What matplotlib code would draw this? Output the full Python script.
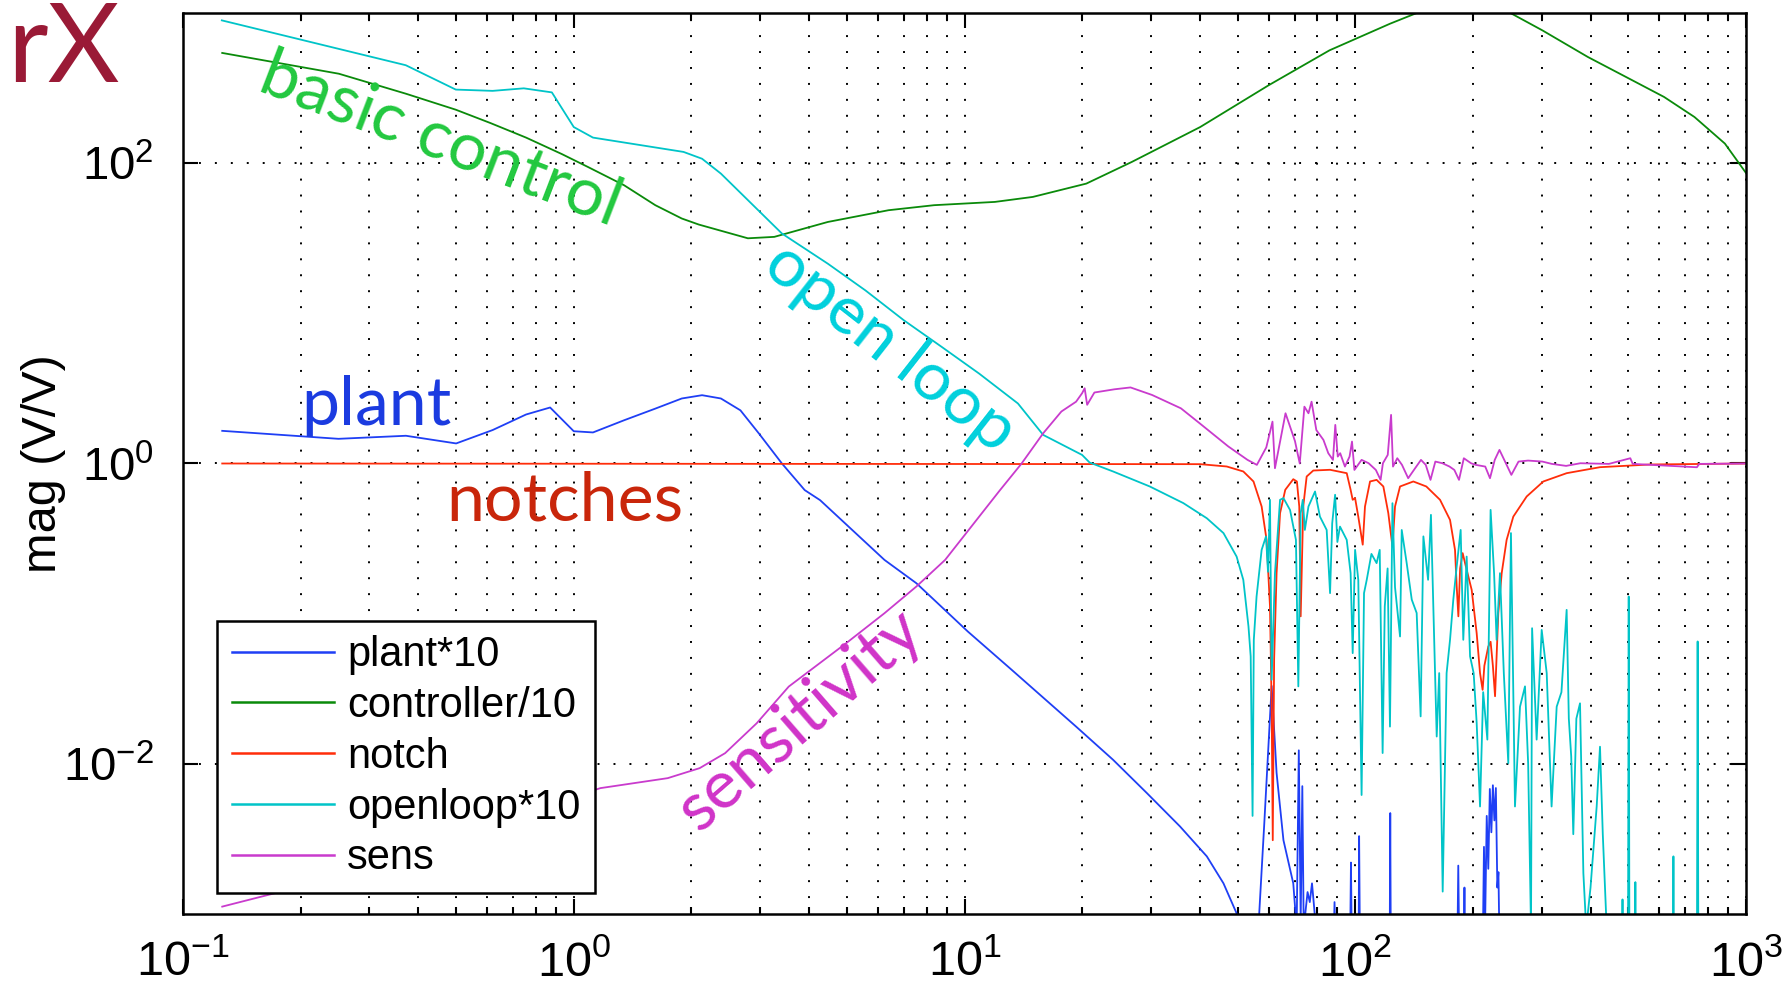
import matplotlib
matplotlib.use('Agg')
import matplotlib.pyplot as plt

plt.rcParams['font.family'] = ['Liberation Sans', 'DejaVu Sans']
plt.rcParams['mathtext.fontset'] = 'custom'
plt.rcParams['mathtext.rm'] = 'Liberation Sans'
plt.rcParams['mathtext.it'] = 'Liberation Sans'

# ---- data (frequency in Hz, magnitude in V/V) ----
plant_f = [0.126, 0.25, 0.372, 0.5, 0.62, 0.755, 0.87, 1.0, 1.12, 1.345, 1.617, 1.89, 2.13, 2.38,
           2.67, 2.98, 3.41, 3.90, 4.27, 6.24, 7.53, 10.2, 13.2, 19.3, 24.0, 29.3, 35.6, 41.7,
           46.0, 49.7, 52.5, 56.5, 58.5, 61.1, 62.9, 65.5, 69.4, 70.8, 71.7, 72.5, 73.2, 73.8,
           75.5, 76.5, 77.5, 78.5, 80, 88, 88.5, 89, 97, 97.5, 98, 102, 102.3, 102.8, 122.5,
           122.9, 123.3, 182.5, 183.5, 184.5, 189.5, 190.3, 191, 212, 213.5, 215, 217, 219, 221,
           223, 225, 227, 229, 231, 232.5, 234, 300, 1000]
plant_mag = [1.65, 1.46, 1.53, 1.36, 1.67, 2.12, 2.36, 1.64, 1.61, 1.94, 2.32, 2.71, 2.85, 2.71,
             2.26, 1.58, 1.0, 0.665, 0.57, 0.228, 0.1595, 0.076, 0.0423, 0.0177, 0.01064, 0.00638,
             0.00383, 0.00242, 0.0016, 0.00101, 0.0006, 0.0008, 0.004, 0.033, 0.0087, 0.0031,
             0.0016, 0.0008, 0.0123, 0.0009, 0.0071, 0.0008, 0.0014, 0.0012, 0.0016, 0.0011,
             0.0006, 0.0006, 0.0012, 0.0006, 0.0006, 0.0022, 0.0006, 0.0006, 0.0033, 0.0006,
             0.0006, 0.0047, 0.0006, 0.0006, 0.0021, 0.0006, 0.0006, 0.0015, 0.0006, 0.0006,
             0.0028, 0.0009, 0.0045, 0.002, 0.0068, 0.0035, 0.0072, 0.0042, 0.0069, 0.0015,
             0.0019, 0.0006, 0.0006, 0.0006]

ctrl_f = [0.126, 0.2506, 0.372, 0.499, 0.612, 0.755, 0.932, 1.09, 1.345, 1.617, 1.89, 2.09, 2.79,
          3.26, 4.47, 6.39, 8.36, 11.96, 14.96, 20.5, 26.8, 40.1, 60.0, 85.9, 122.8, 143.7, 170,
          200, 225, 249.5, 301, 394, 493, 617, 738, 883, 1000]
ctrl_mag = [542, 394, 290, 227, 185, 148, 115, 94, 71.3, 52.5, 42.8, 39, 31.6, 32.3, 40.6, 48.6,
            52.5, 55.2, 59.6, 73.1, 101.9, 174, 330, 564, 849, 1000, 1180, 1230, 1130, 1000,
            767, 509, 375, 276, 203, 135, 86]

notch_f = [0.126, 40.1, 46.9, 51.7, 54.9, 57.6, 59.3, 60.5, 61.1, 61.5, 62.0, 62.9, 64.2, 66.2,
           69.4, 70.9, 71.9, 72.5, 73.6, 75.1, 78.1, 86.2, 95.1, 97.3, 98.5, 99.9, 101.8, 104.5,
           105.9, 109.1, 113.4, 118, 121.5, 124.5, 126.4, 130.2, 140.8, 152, 164.8, 174.8, 180,
           181.8, 183.6, 185.5, 188.3, 192.8, 198.6, 204.5, 208.6, 211.8, 214, 219, 222, 225,
           227.9, 232.3, 237, 244, 253.8, 274.6, 302.9, 347.5, 423, 568, 1000]
notch_mag = [1.0, 0.99, 0.955, 0.885, 0.759, 0.517, 0.31, 0.112, 0.024, 0.0031, 0.05, 0.186,
             0.467, 0.668, 0.786, 0.759, 0.517, 0.096, 0.517, 0.819, 0.898, 0.908, 0.862, 0.668,
             0.573, 0.588, 0.443, 0.288, 0.517, 0.759, 0.778, 0.703, 0.467, 0.28, 0.517, 0.703,
             0.759, 0.703, 0.573, 0.421, 0.266, 0.152, 0.096, 0.2, 0.253, 0.196, 0.144, 0.0742,
             0.0402, 0.0311, 0.045, 0.0604, 0.065, 0.045, 0.0282, 0.1007, 0.186, 0.31, 0.443,
             0.603, 0.759, 0.862, 0.945, 0.985, 1.0]

ol_f = [0.1257, 0.3716, 0.499, 0.62, 0.745, 0.879, 1.0, 1.12, 1.75, 1.91, 2.13, 2.38, 2.85, 3.41,
        4.47, 5.58, 6.99, 8.74, 10.9, 13.7, 15.9, 20.0, 20.9, 24.0, 29.8, 36.3, 41.7, 46.0, 49.7,
        51.7, 53.3, 54.0, 54.6, 55.0, 55.9, 57.6, 59.1, 59.8, 60.5, 61.1, 62.3, 64.2, 65.5, 68.1,
        70.5, 71.5, 72.5, 73.4, 74.3, 75.9, 77.2, 78.9, 81.2, 84.5, 86.2, 87.3, 88.8, 90.0, 91.4,
        95.1, 97.3, 98.5, 99.9, 101.8, 103.8, 105.3, 107, 110, 113.4, 115.5, 117.5, 119, 121,
        122.7, 124.5, 126.4, 130.2, 131.5, 135.4, 139.5, 143.6, 147, 149.4, 153.6, 156.2, 158.4,
        161.6, 164, 167.4, 171.3, 174.8, 178.2, 181.8, 186.1, 189, 192.8, 196.7, 200.9, 204.5,
        208.6, 212.5, 217.8, 222, 226.6, 230, 234.6, 240, 246.4, 250.3, 256.3, 264, 271.9, 277,
        281.7, 283.5, 291.2, 300, 309, 318, 327.7, 337, 347.5, 352, 357, 361.4, 368, 376, 383.5,
        390, 400, 414.8, 423, 430, 440, 482, 483, 484, 499, 501, 503, 520, 521, 522, 650, 652,
        654, 749, 752, 755, 1000]
ol_mag = [893, 449, 309, 303, 315, 296, 174, 148, 123, 118.8, 107, 85.2, 53.8, 34.0, 21.4, 14.2,
          9.0, 5.98, 3.97, 2.51, 1.55, 1.14, 1.015, 0.885, 0.703, 0.545, 0.432, 0.344, 0.240,
          0.168, 0.0822, 0.0519, 0.0045, 0.067, 0.130, 0.266, 0.327, 0.19, 0.573, 0.0363, 0.186,
          0.573, 0.588, 0.49, 0.31, 0.0328, 0.467, 0.573, 0.361, 0.517, 0.573, 0.651, 0.443,
          0.361, 0.137, 0.40, 0.619, 0.30, 0.38, 0.31, 0.186, 0.0546, 0.266, 0.168, 0.0062,
          0.137, 0.168, 0.25, 0.217, 0.266, 0.0118, 0.112, 0.2, 0.0177, 0.544, 0.15, 0.0705,
          0.361, 0.217, 0.124, 0.101, 0.0207, 0.327, 0.168, 0.455, 0.112, 0.0152, 0.0402,
          0.00141, 0.0402, 0.067, 0.124, 0.206, 0.361, 0.067, 0.24, 0.052, 0.0402, 0.0188,
          0.0052, 0.03, 0.0145, 0.491, 0.186, 0.067, 0.186, 0.04, 0.0101, 0.344, 0.0052, 0.024,
          0.0328, 0.01, 0.0008, 0.08, 0.0145, 0.078, 0.0402, 0.0052, 0.024, 0.03, 0.106, 0.02,
          0.0112, 0.0034, 0.02, 0.0253, 0.00187, 0.0008, 0.0015, 0.0052, 0.013, 0.0034, 0.0008,
          0.0006, 0.00125, 0.0006, 0.0006, 0.13, 0.0006, 0.0006, 0.00163, 0.0006, 0.0006,
          0.00242, 0.0006, 0.0006, 0.0653, 0.0006, 0.0006]

sens_f = [0.126, 0.1726, 1.17, 1.74, 2.10, 2.44, 2.94, 3.55, 4.98, 6.24, 7.53, 8.92, 12.3, 14.0,
          15.9, 17.7, 19.3, 20.0, 20.3, 20.6, 21.5, 24.2, 26.6, 30.2, 35.8, 40.0, 47.3, 53.0,
          56.0, 59.2, 61.4, 62.3, 66.3, 70.1, 72.1, 74.1, 75.9, 77.3, 79.5, 82.9, 85.3, 87.7,
          88.9, 90.2, 91.5, 94.1, 96.7, 98.1, 99.5, 103.8, 108.2, 112.9, 116.1, 117.7, 121.1,
          123.5, 124.9, 128.1, 131.7, 136.6, 141.3, 147.3, 151.5, 155.8, 160.3, 167.1, 174.3,
          179.3, 184.3, 189.6, 197.8, 203.4, 215.1, 221.2, 227.5, 233.9, 240.6, 250.9, 261.7,
          276.8, 301.2, 318.4, 346.4, 376.8, 445.8, 505.7, 512.9, 748.6, 759.3, 1000]
sens_mag = [0.00112, 0.00138, 0.00689, 0.00803, 0.00936, 0.01178, 0.01865, 0.0327, 0.0636,
            0.1007, 0.1516, 0.228, 0.66, 1.0, 1.59, 2.22, 2.58, 2.94, 3.17, 2.46, 2.97, 3.12,
            3.21, 2.86, 2.33, 1.85, 1.30, 1.057, 0.979, 1.28, 1.90, 0.93, 2.16, 1.41, 1.0, 2.39,
            2.16, 2.58, 1.67, 1.436, 1.171, 1.057, 1.807, 1.112, 1.171, 0.954, 1.112, 1.40,
            0.906, 1.057, 1.004, 0.906, 0.778, 1.004, 1.141, 2.107, 0.954, 1.084, 0.979, 0.798,
            0.906, 1.057, 0.979, 0.778, 1.030, 1.004, 0.954, 0.906, 0.778, 1.084, 1.004, 0.979,
            0.954, 0.798, 1.057, 1.232, 1.057, 0.840, 1.030, 1.046, 1.030, 0.994, 0.964, 1.004,
            0.994, 1.084, 0.994, 0.944, 0.994, 1.0]

labels = ['plant*10', 'controller/10', 'notch', 'openloop*10', 'sens']
colors = ['#1f3ff5', '#0a8a0a', '#ff2d0a', '#00c4c8', '#c93bcd']

# ---- figure ----
fig = plt.figure(figsize=(17.91, 9.92), dpi=100)
ax = fig.add_axes([0.10218, 0.07863, 0.87270, 0.90827])

series = [(plant_f, plant_mag), (ctrl_f, ctrl_mag), (notch_f, notch_mag),
          (ol_f, ol_mag), (sens_f, sens_mag)]
for (f, m), lab, col in zip(series, labels, colors):
    ax.loglog(f, m, color=col, linewidth=1.3, label=lab)

ax.set_xlim(0.1, 1000)
ax.set_ylim(1e-3, 1e3)
ax.set_yticks([1e-2, 1, 1e2])
ax.yaxis.set_minor_locator(matplotlib.ticker.NullLocator())

# MATLAB-ish dotted grid and inward ticks on all sides
ax.set_axisbelow(True)
ax.grid(True, which='major', axis='both', color='k', linestyle=(0, (1, 7.2)), linewidth=1.4)
ax.grid(True, which='minor', axis='x', color='k', linestyle=(0, (1, 7.2)), linewidth=1.4)
ax.tick_params(which='both', direction='in', top=True, right=True, width=1.5)
ax.tick_params(which='major', length=11)
ax.tick_params(which='minor', length=5)
ax.tick_params(axis='x', labelsize=35, pad=19)
ax.tick_params(axis='y', labelsize=34, pad=21)
for s in ax.spines.values():
    s.set_linewidth(1.8)

ax.set_ylabel('mag (V/V)', fontsize=35)
ax.yaxis.set_label_coords(-0.0749, 0.5)

leg = ax.legend(loc='lower left', bbox_to_anchor=(0.0218, 0.0233), borderaxespad=0,
                fontsize=30, handlelength=2.45, handletextpad=0.32, labelspacing=0.26,
                borderpad=0.35, fancybox=False, edgecolor='k', framealpha=1)
leg.get_frame().set_linewidth(1.8)
for ln in leg.get_lines():
    ln.set_linewidth(1.8)

# hand-written annotations
ann = dict(family=['Lato', 'DejaVu Sans'], fontsize=49, transform=ax.transAxes)
ax.text(0.1651, 0.8590, 'basic control', color='#22c83f', rotation=-21,
        ha='center', va='center', rotation_mode='anchor', **ann)
ax.text(0.4523, 0.6282, 'open loop', color='#00d0dc', rotation=-38,
        ha='center', va='center', rotation_mode='anchor', **ann)
ax.text(0.3948, 0.2153, 'sensitivity', color='#d033c8', rotation=41,
        ha='center', va='center', rotation_mode='anchor', **ann)
ax.text(0.0755, 0.5427, 'plant', color='#1b3be0', ha='left', va='baseline', **ann)
ax.text(0.1683, 0.4362, 'notches', color='#c9260b', ha='left', va='baseline', **ann)

fig.text(7 / 1791, 1 - 82 / 992, 'rX', color='#9a1a36', fontsize=80,
         family=['Lato', 'DejaVu Sans'], ha='left', va='baseline')

fig.savefig('out.png', dpi=100)
plt.close(fig)
